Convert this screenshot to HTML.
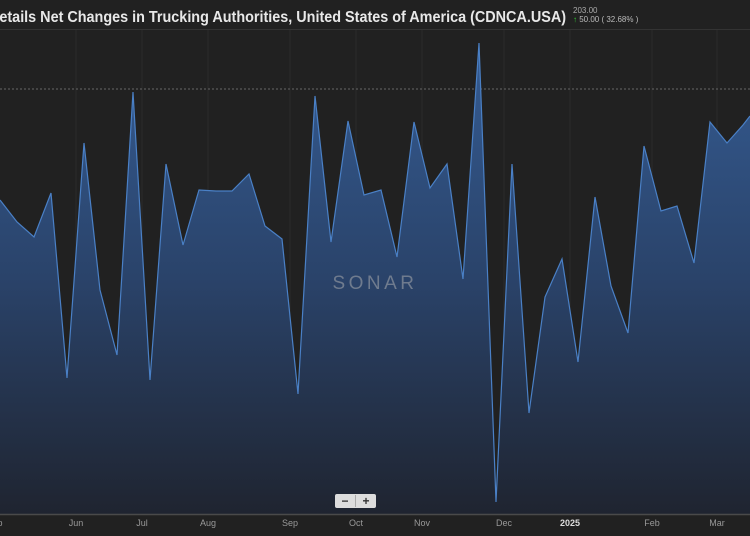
<!DOCTYPE html>
<html><head><meta charset="utf-8"><style>
html,body{margin:0;padding:0;background:#212121;width:750px;height:536px;overflow:hidden}
body{font-family:"Liberation Sans",sans-serif;position:relative}
.v1{position:absolute;left:573px;top:6px;font-size:8px;color:#aaa}
.v2{position:absolute;left:573px;top:15px;font-size:8px;color:#bbb}
.v2 b{color:#3c3;font-weight:normal}
.hdr{position:absolute;left:0;top:29px;width:750px;height:1px;background:#333}
.lbl{position:absolute;top:518px;font-size:9px;color:#999;transform:translateX(-50%)}
</style></head><body>
<svg width="750" height="536" style="position:absolute;left:0;top:0">
<defs><linearGradient id="g" x1="0" y1="40" x2="0" y2="515" gradientUnits="userSpaceOnUse">
<stop offset="0" stop-color="#355c93"/><stop offset="0.5" stop-color="#2a436a"/><stop offset="1" stop-color="#1f2430"/></linearGradient></defs>
<text x="-11" y="22" font-family="Liberation Sans,sans-serif" font-size="16" font-weight="bold" fill="#e8e8e8" textLength="577" lengthAdjust="spacingAndGlyphs">Details Net Changes in Trucking Authorities, United States of America (CDNCA.USA)</text>
<g stroke="#2a2a2a" stroke-width="1">
<line x1="76" y1="30" x2="76" y2="514"/><line x1="142" y1="30" x2="142" y2="514"/><line x1="208" y1="30" x2="208" y2="514"/><line x1="290" y1="30" x2="290" y2="514"/><line x1="356" y1="30" x2="356" y2="514"/><line x1="422" y1="30" x2="422" y2="514"/><line x1="504" y1="30" x2="504" y2="514"/><line x1="570" y1="30" x2="570" y2="514"/><line x1="652" y1="30" x2="652" y2="514"/><line x1="717" y1="30" x2="717" y2="514"/></g>
<line x1="0" y1="89" x2="750" y2="89" stroke="#666" stroke-dasharray="2,2"/>
<polygon fill="url(#g)" points="0,514 0,200 17,222 34,237 51,193 67,378 84,143 100,290 117,355 133,92 150,380 166,164 183,245 199,190 216,191 232,191 249,174 265,226 282,239 298,394 315,96 331,242 348,121 364,195 381,190 397,257 414,122 430,188 447,164 463,279 479,43 496,502 512,164 529,413 545,297 562,259 578,362 595,197 611,286 628,333 644,146 661,211 677,206 694,263 710,122 727,143 743,125 750,116 750,514"/>
<polyline fill="none" stroke="#4a80c6" stroke-width="1.2" points="0,200 17,222 34,237 51,193 67,378 84,143 100,290 117,355 133,92 150,380 166,164 183,245 199,190 216,191 232,191 249,174 265,226 282,239 298,394 315,96 331,242 348,121 364,195 381,190 397,257 414,122 430,188 447,164 463,279 479,43 496,502 512,164 529,413 545,297 562,259 578,362 595,197 611,286 628,333 644,146 661,211 677,206 694,263 710,122 727,143 743,125 750,116"/>
<text x="375" y="289" text-anchor="middle" font-family="Liberation Sans,sans-serif" font-size="19" fill="#6f7b8e" letter-spacing="3.5">SONAR</text>
<line x1="0" y1="514.5" x2="750" y2="514.5" stroke="#4a4a4a" stroke-width="1.5"/>
<rect x="335" y="494" width="41" height="14" rx="2" fill="#ddd"/>
<line x1="355.5" y1="495" x2="355.5" y2="507" stroke="#aaa"/>
<text x="345" y="505" text-anchor="middle" font-size="12" font-weight="bold" fill="#333">−</text>
<text x="366" y="505" text-anchor="middle" font-size="12" font-weight="bold" fill="#333">+</text>
</svg>
<div class="v1">203.00</div>
<div class="v2"><b>↑</b> 50.00 ( 32.68% )</div>
<div class="hdr"></div>
<div class="lbl" style="left:76px">Jun</div><div class="lbl" style="left:142px">Jul</div><div class="lbl" style="left:208px">Aug</div><div class="lbl" style="left:290px">Sep</div><div class="lbl" style="left:356px">Oct</div><div class="lbl" style="left:422px">Nov</div><div class="lbl" style="left:504px">Dec</div><div class="lbl" style="left:570px;color:#ddd;font-weight:bold">2025</div><div class="lbl" style="left:652px">Feb</div><div class="lbl" style="left:717px">Mar</div><div class="lbl" style="left:0px">p</div>
</body></html>
